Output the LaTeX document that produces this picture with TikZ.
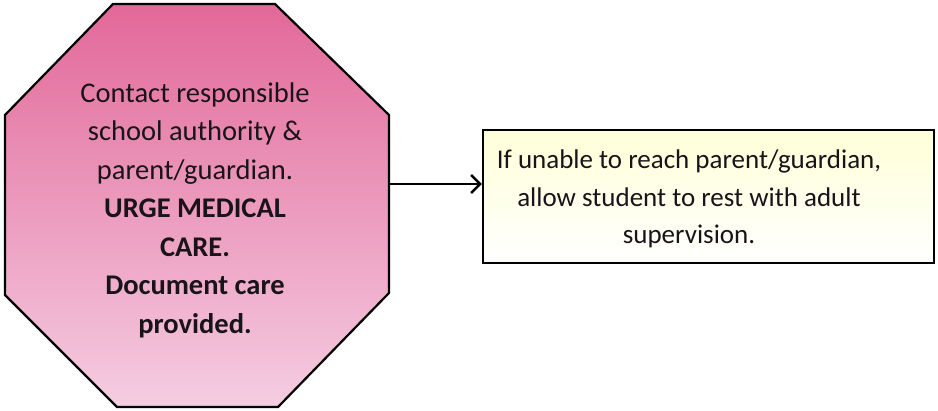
\documentclass[tikz,border=0pt]{standalone}
\usepackage{fontspec}
\setmainfont{Carlito}
\usetikzlibrary{arrows.meta}
\definecolor{pinktop}{RGB}{226,104,152}
\definecolor{pinkbot}{RGB}{245,205,225}
\definecolor{yeltop}{RGB}{255,255,215}
\definecolor{txt}{RGB}{25,20,25}
\tikzset{
  octtext/.style={align=center, text=txt, font=\fontsize{28.5}{38.5}\selectfont},
  boxnode/.style={draw=black, line width=2.4pt, minimum width=451pt, minimum height=133pt, top color=yeltop, bottom color=white, inner sep=0pt},
  boxtext/.style={align=center, text=txt, font=\fontsize{27}{37.5}\selectfont},
  conn/.style={line width=2.4pt, -{Straight Barb[length=9pt,width=18pt,line width=2.4pt]}}
}
\begin{document}
\begin{tikzpicture}[x=1pt,y=-1pt]
\useasboundingbox (0,0) rectangle (938,411);
\shade[top color=pinktop, bottom color=pinkbot, draw=black, line width=2.2pt, line join=miter]
  (113,4) -- (275,4) -- (389,115) -- (389,293) -- (278,407) -- (117,407) -- (5,295) -- (5,115) -- cycle;
\coordinate (octR) at (389,184);
\node[octtext] (oct) at (195,210) {Contact responsible\\school authority \&\\parent/guardian.\\\textbf{URGE MEDICAL}\\\textbf{CARE.}\\\textbf{Document care}\\\textbf{provided.}};
\node[boxnode] (box) at (708.5,196.5) {};
\node[boxtext] (boxt) at (689,199) {If unable to reach parent/guardian,\\allow student to rest with adult\\supervision.};
\draw[conn] (octR) -- (octR -| box.west);
\end{tikzpicture}
\end{document}
